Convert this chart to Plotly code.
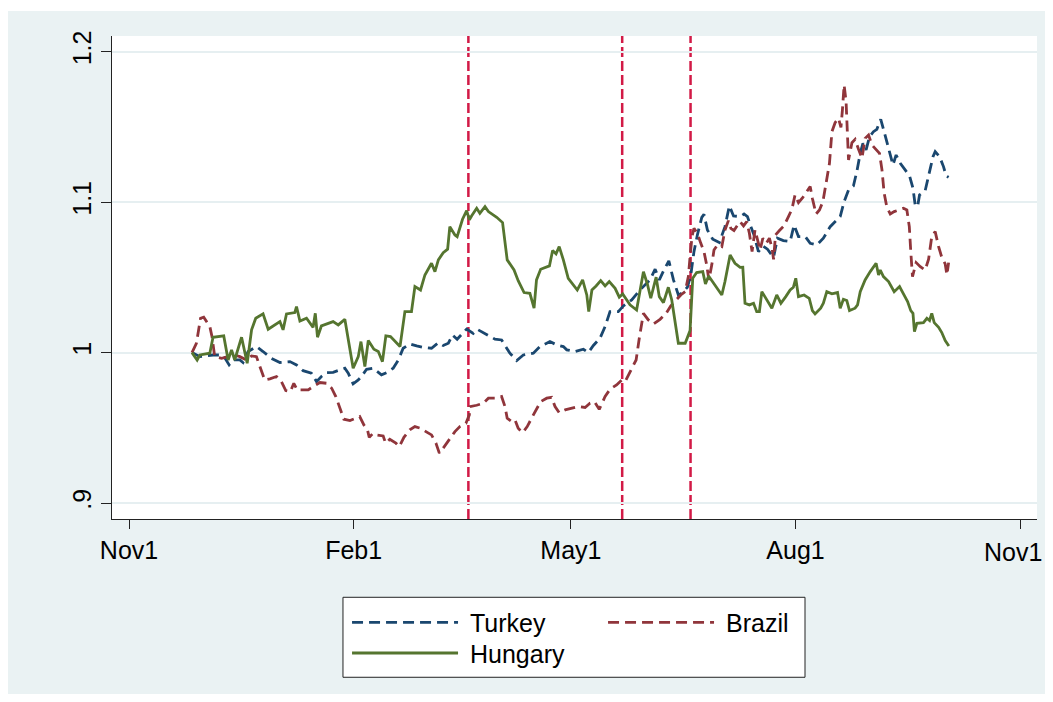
import pandas as pd
import plotly.graph_objects as go

BASE = pd.Timestamp("2012-11-01")

# days since 2012-11-01 and index values (start = 1)
turkey_days = [25.8, 29.0, 34.4, 38.5, 41.0, 42.6, 45.4, 46.7, 48.8, 52.2, 54.9, 58.3, 61.8, 65.9, 68.6,
               71.3, 74.7, 76.8, 78.8, 80.9, 83.6, 86.4, 88.4, 89.8, 91.8, 93.9, 95.2, 97.3, 100.0,
               103.4, 105.5, 108.2, 110.3, 112.3, 115.0, 117.8, 120.5, 123.9, 126.7, 128.7, 130.8, 132.5,
               134.4, 138.3, 141.0, 142.6, 145.8, 149.9, 152.6, 154.0, 156.0, 158.8, 161.5, 165.6, 168.3,
               172.4, 175.2, 177.9, 179.3, 182.7, 186.1, 188.1, 190.2, 192.9, 195.0, 197.0, 200.4, 202.5,
               205.9, 209.3, 211.4, 213.4, 215.5, 217.2, 219.1, 221.1, 223.0, 225.0, 226.8, 228.7, 230.1,
               231.4, 232.8, 234.6, 235.5, 236.9, 239.1, 241.8, 244.1, 245.9, 247.6, 250.3, 251.9, 253.3,
               254.7, 256.0, 257.8, 259.6, 261.5, 264.0, 265.6, 268.0, 270.8, 272.4, 274.2, 277.0, 279.0,
               281.7, 284.4, 287.2, 291.3, 292.9, 294.7, 296.7, 298.1, 299.5, 300.6, 301.9, 303.3, 304.9,
               306.3, 307.9, 309.3, 311.1, 312.9, 314.2, 315.9, 317.9, 319.7, 321.1, 322.0, 323.0, 323.8,
               326.1, 327.5, 329.3, 330.2, 332.0, 333.6, 334.7, 335.7]
turkey = [1.0000, 0.9973, 0.9984, 0.9984, 0.9918, 0.9951, 0.9951, 0.9934, 1.0007, 1.0040, 1.0007, 0.9962,
          0.9934, 0.9940, 0.9918, 0.9880, 0.9863, 0.9807, 0.9841, 0.9867, 0.9869, 0.9885, 0.9896, 0.9863,
          0.9792, 0.9818, 0.9841, 0.9889, 0.9896, 0.9852, 0.9867, 0.9896, 0.9951, 1.0029, 1.0058, 1.0044,
          1.0035, 1.0029, 1.0066, 1.0047, 1.0062, 1.0117, 1.0089, 1.0157, 1.0128, 1.0155, 1.0124, 1.0089,
          1.0084, 1.0049, 0.9996, 0.9947, 0.9984, 0.9996, 1.0040, 1.0073, 1.0051, 1.0040, 1.0018, 1.0007,
          1.0022, 1.0000, 1.0047, 1.0095, 1.0173, 1.0272, 1.0272, 1.0310, 1.0350, 1.0416, 1.0450, 1.0483,
          1.0554, 1.0483, 1.0549, 1.0609, 1.0483, 1.0383, 1.0399, 1.0434, 1.0516, 1.0671, 1.0782, 1.0899,
          1.0919, 1.0815, 1.0753, 1.0731, 1.0837, 1.0975, 1.0908, 1.0904, 1.0921, 1.0904, 1.0837, 1.0782,
          1.0671, 1.0709, 1.0687, 1.0633, 1.0760, 1.0744, 1.0738, 1.0848, 1.0771, 1.0771, 1.0726, 1.0715,
          1.0760, 1.0837, 1.0904, 1.1003, 1.1081, 1.1107, 1.1203, 1.1324, 1.1391, 1.1347, 1.1435, 1.1468,
          1.1484, 1.1550, 1.1468, 1.1358, 1.1247, 1.1313, 1.1258, 1.1214, 1.1174, 1.1092, 1.0981, 1.0970,
          1.1048, 1.1076, 1.1169, 1.1302, 1.1336, 1.1302, 1.1236, 1.1174, 1.1165]

brazil_days = [25.8, 27.6, 29.3, 30.6, 33.1, 34.0, 35.1, 37.9, 40.6, 43.3, 45.4, 48.1, 50.2, 52.2, 53.6,
               55.6, 57.7, 60.4, 62.4, 64.2, 66.1, 67.5, 68.9, 71.1, 73.4, 75.4, 78.2, 80.9, 83.0, 84.7,
               86.4, 88.0, 90.5, 92.5, 94.5, 96.2, 97.6, 98.4, 100.0, 101.4, 104.1, 105.1, 106.8, 109.3,
               110.7, 112.6, 115.0, 117.1, 119.4, 121.6, 123.9, 125.7, 127.1, 128.7, 131.2, 133.5, 135.5,
               138.0, 139.4, 139.6, 142.4, 145.1, 147.2, 150.3, 152.6, 154.0, 154.9, 156.7, 158.1, 159.4,
               161.2, 163.1, 164.9, 166.3, 168.6, 171.1, 173.1, 174.5, 176.2, 178.6, 182.0, 184.0, 186.8,
               188.8, 190.6, 192.6, 195.0, 197.0, 199.7, 201.8, 203.2, 205.2, 207.7, 209.0, 210.7, 212.7,
               214.8, 217.5, 220.0, 221.9, 224.1, 226.0, 227.8, 229.1, 229.8, 230.6, 231.4, 232.8, 234.2,
               235.5, 236.6, 237.5, 238.7, 239.6, 241.0, 242.8, 244.1, 245.5, 246.5, 247.8, 249.6, 250.3,
               251.7, 253.0, 254.1, 255.2, 256.4, 257.5, 258.5, 259.6, 261.0, 262.3, 263.4, 264.0, 264.8,
               266.4, 268.3, 270.1, 271.5, 272.8, 274.2, 276.0, 277.6, 279.0, 279.9, 281.4, 282.8, 284.2,
               285.5, 286.9, 287.9, 289.2, 290.6, 291.6, 292.2, 292.9, 293.7, 294.7, 296.1, 297.4, 298.8,
               300.2, 301.5, 302.9, 304.3, 306.0, 307.4, 308.4, 309.3, 310.4, 311.8, 313.4, 315.2, 317.2,
               318.6, 319.6, 320.2, 320.9, 322.4, 324.1, 326.1, 327.5, 328.8, 330.2, 331.6, 332.9, 334.3,
               335.0, 335.7]
brazil = [1.0000, 1.0062, 1.0228, 1.0235, 1.0173, 1.0106, 0.9973, 0.9962, 0.9973, 0.9984, 0.9973, 0.9951,
          0.9978, 0.9973, 0.9907, 0.9818, 0.9825, 0.9841, 0.9807, 0.9748, 0.9741, 0.9796, 0.9752, 0.9752,
          0.9752, 0.9774, 0.9801, 0.9796, 0.9763, 0.9708, 0.9630, 0.9557, 0.9548, 0.9564, 0.9575, 0.9519,
          0.9491, 0.9437, 0.9464, 0.9453, 0.9446, 0.9398, 0.9424, 0.9398, 0.9375, 0.9437, 0.9486, 0.9508,
          0.9497, 0.9475, 0.9453, 0.9398, 0.9332, 0.9365, 0.9424, 0.9475, 0.9508, 0.9530, 0.9586, 0.9641,
          0.9650, 0.9663, 0.9697, 0.9697, 0.9708, 0.9641, 0.9564, 0.9542, 0.9553, 0.9497, 0.9468, 0.9508,
          0.9564, 0.9608, 0.9674, 0.9697, 0.9703, 0.9641, 0.9601, 0.9619, 0.9630, 0.9641, 0.9635, 0.9663,
          0.9674, 0.9623, 0.9708, 0.9756, 0.9785, 0.9818, 0.9807, 0.9874, 0.9951, 1.0095, 1.0261, 1.0217,
          1.0190, 1.0221, 1.0261, 1.0310, 1.0350, 1.0383, 1.0405, 1.0505, 1.0638, 1.0771, 1.0826, 1.0793,
          1.0726, 1.0671, 1.0583, 1.0483, 1.0583, 1.0682, 1.0715, 1.0704, 1.0815, 1.0877, 1.0826, 1.0811,
          1.0855, 1.0870, 1.0842, 1.0870, 1.0793, 1.0671, 1.0815, 1.0744, 1.0682, 1.0760, 1.0726, 1.0760,
          1.0693, 1.0620, 1.0782, 1.0811, 1.0842, 1.0904, 1.0952, 1.1048, 1.0997, 1.1032, 1.1070, 1.1103,
          1.1025, 1.0921, 1.0948, 1.1003, 1.1125, 1.1258, 1.1468, 1.1528, 1.1557, 1.1497, 1.1612, 1.1778,
          1.1668, 1.1280, 1.1395, 1.1417, 1.1351, 1.1291, 1.1424, 1.1446, 1.1380, 1.1347, 1.1324, 1.1214,
          1.1059, 1.0966, 1.0921, 1.0937, 1.0948, 1.0959, 1.0948, 1.0837, 1.0671, 1.0505, 1.0598, 1.0571,
          1.0549, 1.0620, 1.0771, 1.0804, 1.0704, 1.0633, 1.0589, 1.0516, 1.0598]

hungary_days = [25.8, 27.9, 29.0, 33.1, 34.4, 38.8, 40.6, 42.0, 43.3, 46.1, 48.4, 50.2, 51.9, 54.9, 57.0,
                61.8, 63.1, 64.5, 67.9, 68.6, 70.0, 72.7, 75.4, 76.3, 77.2, 78.8, 83.6, 85.7, 88.4, 91.8,
                93.9, 95.0, 96.6, 98.0, 100.3, 102.1, 103.8, 105.2, 107.1, 111.0, 113.0, 115.7, 117.1,
                119.4, 121.2, 123.9, 125.3, 126.7, 128.7, 130.5, 131.4, 133.5, 134.4, 136.6, 138.3, 139.4,
                140.3, 142.4, 143.7, 145.8, 147.2, 150.6, 153.0, 154.9, 157.7, 159.4, 161.8, 164.2, 165.9,
                166.9, 168.6, 172.2, 173.5, 174.9, 176.2, 177.9, 179.9, 182.0, 183.6, 185.8, 187.5, 188.3,
                189.6, 191.3, 193.2, 195.0, 196.7, 199.1, 200.8, 202.2, 203.8, 205.2, 207.9, 210.7, 212.3,
                213.7, 215.9, 217.2, 218.9, 220.9, 222.3, 223.7, 225.0, 227.8, 229.8, 230.9, 232.5, 235.0,
                236.1, 237.4, 240.0, 242.8, 244.1, 246.2, 248.2, 250.3, 251.4, 252.3, 254.1, 255.8, 257.1,
                258.2, 259.2, 261.2, 263.3, 265.3, 267.0, 269.0, 270.8, 272.1, 273.1, 274.2, 276.5, 278.6,
                279.9, 281.0, 283.3, 284.4, 285.8, 287.9, 290.2, 291.3, 292.6, 294.0, 295.1, 297.4, 298.4,
                299.5, 301.5, 303.6, 304.9, 306.0, 307.0, 307.7, 309.0, 311.1, 313.4, 315.6, 317.2, 318.9,
                320.2, 321.1, 321.7, 322.7, 325.4, 326.8, 327.9, 328.8, 329.8, 331.6, 332.9, 334.3, 335.8]
hungary = [1.0000, 0.9951, 0.9984, 0.9996, 1.0102, 1.0111, 0.9951, 1.0018, 0.9951, 1.0102, 0.9929, 1.0151,
           1.0228, 1.0257, 1.0155, 1.0206, 1.0151, 1.0257, 1.0266, 1.0306, 1.0210, 1.0228, 1.0168, 1.0261,
           1.0102, 1.0177, 1.0206, 1.0184, 1.0221, 0.9896, 0.9973, 1.0073, 0.9907, 1.0080, 1.0022, 1.0007,
           0.9940, 1.0111, 1.0106, 1.0040, 1.0272, 1.0272, 1.0439, 1.0416, 1.0516, 1.0594, 1.0538, 1.0616,
           1.0664, 1.0687, 1.0837, 1.0782, 1.0771, 1.0886, 1.0944, 1.0882, 1.0908, 1.0959, 1.0926, 1.0970,
           1.0937, 1.0899, 1.0864, 1.0616, 1.0549, 1.0478, 1.0399, 1.0394, 1.0295, 1.0483, 1.0554, 1.0576,
           1.0678, 1.0656, 1.0704, 1.0616, 1.0494, 1.0450, 1.0416, 1.0483, 1.0383, 1.0272, 1.0416, 1.0443,
           1.0478, 1.0443, 1.0472, 1.0427, 1.0368, 1.0390, 1.0350, 1.0317, 1.0283, 1.0538, 1.0456, 1.0361,
           1.0501, 1.0372, 1.0332, 1.0434, 1.0350, 1.0199, 1.0062, 1.0062, 1.0146, 1.0494, 1.0532, 1.0538,
           1.0456, 1.0509, 1.0450, 1.0383, 1.0472, 1.0649, 1.0594, 1.0566, 1.0567, 1.0328, 1.0317, 1.0328,
           1.0272, 1.0272, 1.0405, 1.0350, 1.0295, 1.0383, 1.0328, 1.0372, 1.0416, 1.0434, 1.0494, 1.0372,
           1.0383, 1.0361, 1.0279, 1.0257, 1.0295, 1.0328, 1.0405, 1.0390, 1.0399, 1.0295, 1.0354, 1.0346,
           1.0279, 1.0295, 1.0317, 1.0405, 1.0483, 1.0538, 1.0571, 1.0594, 1.0516, 1.0549, 1.0505, 1.0472,
           1.0405, 1.0439, 1.0390, 1.0339, 1.0279, 1.0261, 1.0140, 1.0195, 1.0199, 1.0228, 1.0213, 1.0261,
           1.0199, 1.0168, 1.0133, 1.0080, 1.0044]

event_dates = ["2013-03-20", "2013-05-22", "2013-06-19"]

x_tick_dates = ["2012-11-01", "2013-02-01", "2013-05-01", "2013-08-01", "2013-11-01"]
x_tick_labels = ["Nov1", "Feb1", "May1", "Aug1", "Nov1"]
y_tick_vals = [0.9, 1.0, 1.1, 1.2]
y_tick_labels = [".9", "1", "1.1", "1.2"]


def to_dates(days):
    return BASE + pd.to_timedelta(days, unit="D")


FONT = "Liberation Sans, Arial, Helvetica, sans-serif"
BG = "#EAF2F3"
NB = "\u00a0"

fig = go.Figure()
fig.add_trace(go.Scatter(x=to_dates(turkey_days), y=turkey, mode="lines", name=NB + "Turkey",
                         line=dict(color="#1A476F", width=2.8, dash="11px,6px"), legend="legend"))
fig.add_trace(go.Scatter(x=to_dates(brazil_days), y=brazil, mode="lines", name=NB + "Brazil",
                         line=dict(color="#90353B", width=2.8, dash="11px,6px"), legend="legend"))
fig.add_trace(go.Scatter(x=to_dates(hungary_days), y=hungary, mode="lines", name=NB + "Hungary",
                         line=dict(color="#55752F", width=2.8), legend="legend2"))

shapes = []
for d in event_dates:
    shapes.append(dict(type="line", xref="x", yref="paper", x0=d, x1=d, y0=0, y1=1,
                       line=dict(color="#D21A46", width=2.5, dash="10px,4px"), layer="between"))
# white strip at the very top of the page (above the graph region)
shapes.append(dict(type="rect", xref="paper", yref="paper", x0=-0.2, x1=1.1, y0=1.0518, y1=1.2,
                   fillcolor="white", line=dict(width=0), layer="below"))
# legend frame
shapes.append(dict(type="rect", xref="paper", yref="paper", x0=0.2497, x1=0.7492, y0=-0.3277, y1=-0.1621,
                   fillcolor="white", line=dict(color="#222222", width=1), layer="above"))

# the last x tick label sits at the page edge: draw it right-aligned so it stays whole
tick_text_shown = x_tick_labels[:-1] + [""]
annotations = [dict(text=x_tick_labels[-1], xref="paper", yref="paper", x=1.0078, y=-0.068,
                    xanchor="right", yanchor="middle", showarrow=False,
                    font=dict(family=FONT, size=25, color="black"))]

fig.update_layout(
    width=1037, height=686,
    margin=dict(l=104, r=8, t=28, b=175, autoexpand=False),
    paper_bgcolor=BG, plot_bgcolor="white",
    font=dict(family=FONT, size=25, color="black"),
    shapes=shapes,
    annotations=annotations,
    showlegend=True,
    legend=dict(orientation="h", x=0.2541, xanchor="left", y=-0.2147, yanchor="middle",
                bgcolor="rgba(0,0,0,0)", borderwidth=0, itemwidth=106, entrywidth=135,
                font=dict(family=FONT, size=25, color="black"), itemclick=False, itemdoubleclick=False),
    legend2=dict(orientation="h", x=0.2541, xanchor="left", y=-0.278, yanchor="middle",
                 bgcolor="rgba(0,0,0,0)", borderwidth=0, itemwidth=106,
                 font=dict(family=FONT, size=25, color="black"), itemclick=False, itemdoubleclick=False),
    xaxis=dict(type="date", range=["2012-10-25 00:45", "2013-11-07 21:36"], automargin=False,
               tickmode="array", tickvals=x_tick_dates, ticktext=tick_text_shown,
               ticks="outside", ticklen=9, tickwidth=1.3, tickcolor="#222222",
               showline=True, linecolor="#222222", linewidth=1.3, showgrid=False, zeroline=False,
               tickfont=dict(family=FONT, size=25, color="black")),
    yaxis=dict(range=[0.8894, 1.2104], tickmode="array", tickvals=y_tick_vals, ticktext=y_tick_labels,
               automargin=False,
               ticks="outside", ticklen=10, tickwidth=1.3, tickcolor="#222222", tickangle=-90,
               showline=True, linecolor="#222222", linewidth=1.3,
               showgrid=True, gridcolor="#E6EFF1", gridwidth=1.5, zeroline=False,
               tickfont=dict(family=FONT, size=25, color="black")),
)

fig.write_html("out.html")
